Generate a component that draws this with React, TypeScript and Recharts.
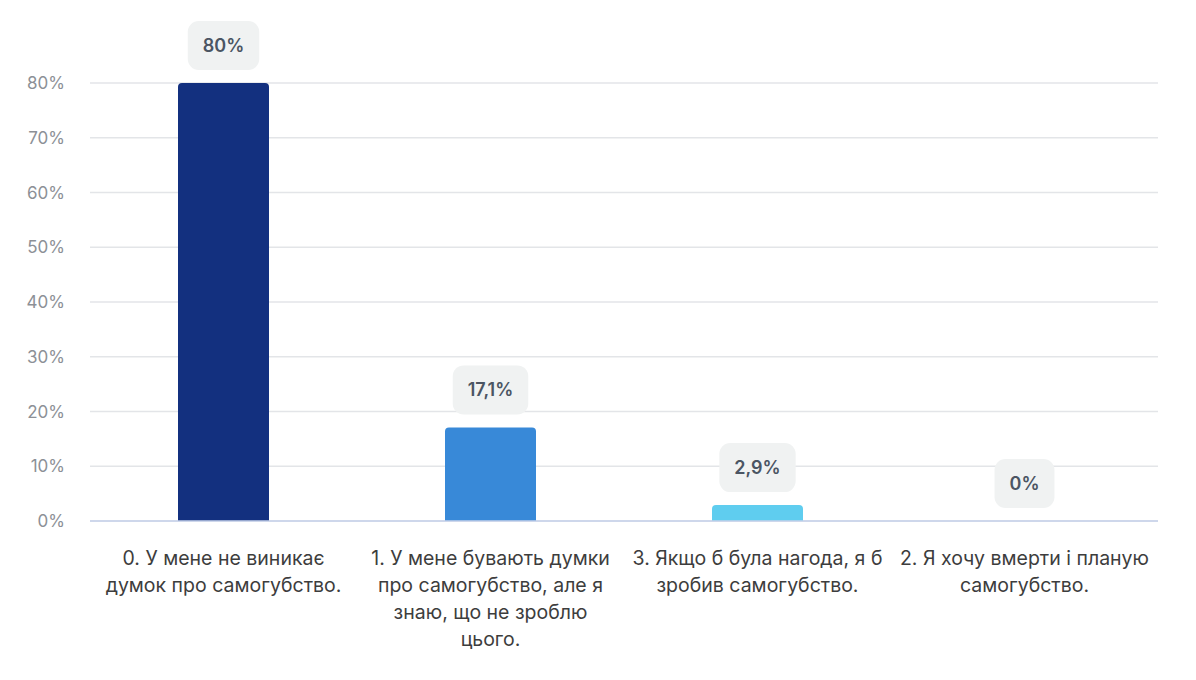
import { BarChart, Bar, XAxis, YAxis, CartesianGrid, Cell, LabelList } from "recharts";

const categories = [
  "0. У мене не виникає думок про самогубство.",
  "1. У мене бувають думки про самогубство, але я знаю, що не зроблю цього.",
  "3. Якщо б була нагода, я б зробив самогубство.",
  "2. Я хочу вмерти і планую самогубство.",
];
const categoryLines = [
  ["0. У мене не виникає", "думок про самогубство."],
  ["1. У мене бувають думки", "про самогубство, але я", "знаю, що не зроблю", "цього."],
  ["3. Якщо б була нагода, я б", "зробив самогубство."],
  ["2. Я хочу вмерти і планую", "самогубство."],
];
const values = [80, 17.1, 2.9, 0];
const barColors = ["#13307f", "#3889d8", "#5fcdef", "#5fcdef"];
const yTicks = [0, 10, 20, 30, 40, 50, 60, 70, 80];

const data = categories.map((name, i) => ({ name, value: values[i] }));

const FONT = "Inter, 'Noto Sans', sans-serif";

function fmt(v: number) {
  return `${String(v).replace(".", ",")}%`;
}

let ctx: CanvasRenderingContext2D | null = null;
function textWidth(s: string) {
  if (!ctx) ctx = document.createElement("canvas").getContext("2d");
  if (!ctx) return s.length * 10;
  ctx.font = "600 18px Inter";
  return ctx.measureText(s).width;
}

function Bubble(props: any) {
  const { x, y, width, value } = props;
  const label = fmt(Number(value));
  const w = textWidth(label) + 30;
  const h = 49;
  const cx = x + width / 2;
  const bottom = y - 13;
  return (
    <g>
      <rect x={cx - w / 2} y={bottom - h} width={w} height={h} rx={11} fill="#f0f2f2" />
      <text
        x={cx}
        y={bottom - h / 2}
        textAnchor="middle"
        dominantBaseline="central"
        fontFamily={FONT}
        fontWeight={600}
        fontSize={18}
        fill="#4b5563"
      >
        {label}
      </text>
    </g>
  );
}

function CategoryTick(props: any) {
  const { x, y, index } = props;
  const lines = categoryLines[index] || [];
  return (
    <text
      x={x}
      y={y}
      textAnchor="middle"
      fontFamily={FONT}
      fontSize={19.5}
      fill="#3d3d3d"
    >
      {lines.map((l, i) => (
        <tspan key={i} x={x} y={y + 29 + i * 27} dominantBaseline="central">
          {l}
        </tspan>
      ))}
    </text>
  );
}

function ValueTick(props: any) {
  const { y, payload } = props;
  return (
    <text
      x={65}
      y={y}
      textAnchor="end"
      dominantBaseline="central"
      fontFamily={FONT}
      fontSize={17}
      fill="#8c9096"
    >
      {payload.value}%
    </text>
  );
}

export default function App() {
  return (
    <div style={{ position: "absolute", left: 0, top: 0, width: 1196, height: 680, background: "#fff" }}>
      <BarChart
        width={1196}
        height={680}
        data={data}
        margin={{ top: 83, right: 38, left: 0, bottom: 0 }}
        barCategoryGap={88}
      >
        <CartesianGrid vertical={false} stroke="#e3e5e8" strokeWidth={1.5} />
        <XAxis
          dataKey="name"
          height={159}
          interval={0}
          tickLine={false}
          axisLine={{ stroke: "#c5d0ea", strokeWidth: 1.5 }}
          tick={<CategoryTick />}
        />
        <YAxis
          width={90}
          domain={[0, 80]}
          ticks={yTicks}
          axisLine={false}
          tickLine={false}
          tick={<ValueTick />}
        />
        <Bar dataKey="value" radius={[4, 4, 0, 0]} minPointSize={0.01} isAnimationActive={false}>
          {data.map((_, i) => (
            <Cell key={i} fill={barColors[i]} />
          ))}
          <LabelList dataKey="value" content={<Bubble />} />
        </Bar>
      </BarChart>
    </div>
  );
}
